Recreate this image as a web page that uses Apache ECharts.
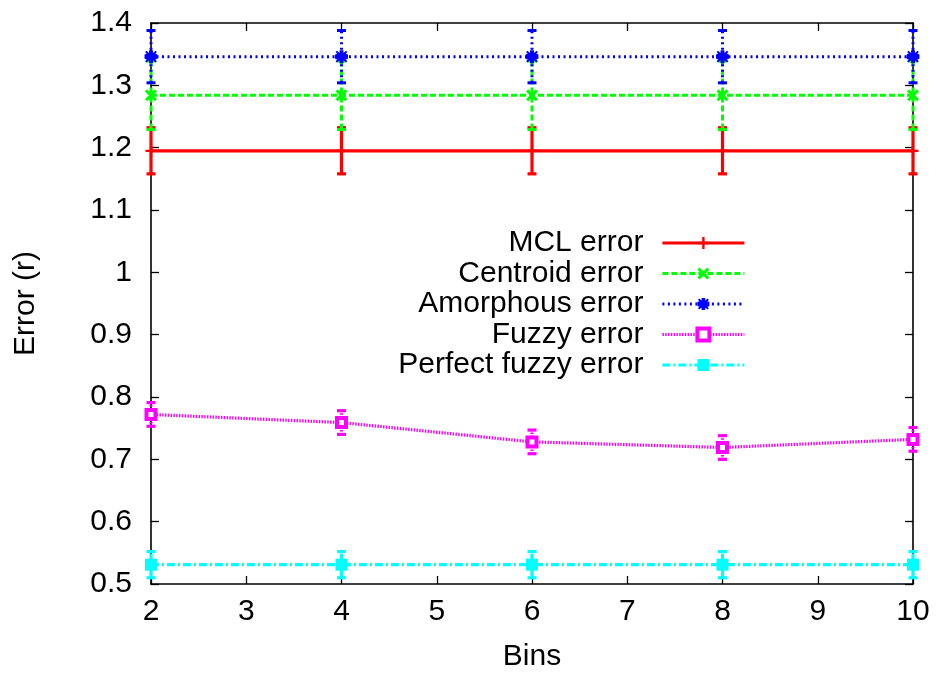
<!DOCTYPE html>
<html>
<head>
<meta charset="utf-8">
<script src="https://cdn.jsdelivr.net/npm/echarts@6/dist/echarts.min.js"></script>
<style>
  html, body { margin: 0; padding: 0; background: #fff; }
  #chart { width: 938px; height: 677px; }
</style>
</head>
<body>
<div id="chart"></div>
<script>
// Number of bins on the x axis
const bins = [2, 4, 6, 8, 10];

// Mean error per method, with the half-height of each error bar
const mclError = [1.195, 1.195, 1.195, 1.195, 1.195];
const mclErrorBar = [0.037, 0.037, 0.037, 0.037, 0.037];

const centroidError = [1.284, 1.284, 1.284, 1.284, 1.284];
const centroidErrorBar = [0.055, 0.055, 0.055, 0.055, 0.055];

const amorphousError = [1.346, 1.346, 1.346, 1.346, 1.346];
const amorphousErrorBar = [0.042, 0.042, 0.042, 0.042, 0.042];

const fuzzyError = [0.772, 0.759, 0.728, 0.719, 0.732];
const fuzzyErrorBar = [0.019, 0.019, 0.019, 0.019, 0.019];

const perfectFuzzyError = [0.531, 0.531, 0.531, 0.531, 0.531];
const perfectFuzzyErrorBar = [0.021, 0.021, 0.021, 0.021, 0.021];

const seriesNames = ['MCL error', 'Centroid error', 'Amorphous error', 'Fuzzy error', 'Perfect fuzzy error'];

// Axis ranges
const xMin = 2, xMax = 10, xStep = 1;
const yMin = 0.5, yMax = 1.4, yStep = 0.1;

const FONT = '"Liberation Sans", Arial, Helvetica, sans-serif';
const FS = 30;

// Point shapes
const plusPath = 'path://M4,0H6V4H10V6H6V10H4V6H0V4H4Z';
const crossPath = 'path://M0,1.8L1.8,0L5,3.2L8.2,0L10,1.8L6.8,5L10,8.2L8.2,10L5,6.8L1.8,10L0,8.2L3.2,5Z';
const starPath = 'path://M3.5,0H6.5V3H9.2L10,3.5V6.5L9.2,7H6.5V10H3.5V7H0.8L0,6.5V3.5L0.8,3H3.5Z M1.5,0.5L5,3.5L8.5,0.5L9.5,1.5L6.5,5L9.5,8.5L8.5,9.5L5,6.5L1.5,9.5L0.5,8.5L3.5,5L0.5,1.5Z';

const styles = [
  { color: '#ff0000', width: 3.2, dash: 'solid',      dashArr: null,         symbol: plusPath,  size: 11, item: { color: '#ff0000' } },
  { color: '#00ff00', width: 3,   dash: [6, 3],       dashArr: [6, 3],       symbol: crossPath, size: 12, item: { color: '#00ff00' } },
  { color: '#0000ff', width: 3,   dash: [2, 3.5],     dashArr: [2, 3.5],     symbol: starPath,  size: 13, item: { color: '#0000ff' } },
  { color: '#ff00ff', width: 3.2, dash: [1.5, 1.3],   dashArr: [1.5, 1.3],   symbol: 'rect',    size: 9,  item: { color: '#ffffff', borderColor: '#ff00ff', borderWidth: 4 } },
  { color: '#00ffff', width: 3.2, dash: [8, 3, 2, 3], dashArr: [8, 3, 2, 3], symbol: 'rect',    size: 12, item: { color: '#00ffff' } }
];

const values = [mclError, centroidError, amorphousError, fuzzyError, perfectFuzzyError];
const errors = [mclErrorBar, centroidErrorBar, amorphousErrorBar, fuzzyErrorBar, perfectFuzzyErrorBar];

function lineSeries(i) {
  const s = styles[i];
  return {
    type: 'line',
    name: seriesNames[i],
    data: bins.map((b, k) => [b, values[i][k]]),
    symbol: s.symbol,
    symbolSize: s.size,
    showAllSymbol: true,
    clip: false,
    lineStyle: { color: s.color, width: s.width, type: s.dash },
    itemStyle: s.item,
    emphasis: { disabled: true },
    animation: false
  };
}

function errorSeries(i) {
  const s = styles[i];
  return {
    type: 'custom',
    name: seriesNames[i],
    data: bins.map((b, k) => [b, values[i][k] - errors[i][k], values[i][k] + errors[i][k]]),
    encode: { x: 0, y: [1, 2] },
    clip: false,
    silent: true,
    animation: false,
    renderItem(params, api) {
      const x = api.value(0);
      const lo = api.coord([x, api.value(1)]);
      const hi = api.coord([x, api.value(2)]);
      const half = 4.5;
      const style = { stroke: s.color, lineWidth: s.width, lineDash: s.dashArr, fill: null };
      const cap = { stroke: s.color, lineWidth: s.width };
      return {
        type: 'group',
        children: [
          { type: 'line', shape: { x1: lo[0], y1: lo[1], x2: hi[0], y2: hi[1] }, style },
          { type: 'line', shape: { x1: lo[0] - half, y1: lo[1], x2: lo[0] + half, y2: lo[1] }, style: cap },
          { type: 'line', shape: { x1: hi[0] - half, y1: hi[1], x2: hi[0] + half, y2: hi[1] }, style: cap }
        ]
      };
    }
  };
}

const series = [];
for (let i = 0; i < seriesNames.length; i++) {
  series.push(lineSeries(i));
  series.push(errorSeries(i));
}

// Legend entries keep each series' own stroke width and point border
const legendData = seriesNames.map((name, i) => {
  const s = styles[i];
  const entry = {
    name,
    lineStyle: { width: s.width, color: s.color, type: s.dash }
  };
  if (s.item.borderWidth) {
    entry.itemStyle = { color: s.item.color, borderColor: s.item.borderColor, borderWidth: s.item.borderWidth };
  }
  return entry;
});

const frameLine = { show: true, onZero: false, lineStyle: { color: '#000', width: 1.6 } };
const innerTick = { show: true, inside: true, length: 8, lineStyle: { color: '#000', width: 1.3 } };

const option = {
  backgroundColor: '#ffffff',
  animation: false,
  textStyle: { fontFamily: FONT },
  grid: { left: 151, right: 25, top: 23, bottom: 93, containLabel: false, outerBoundsMode: 'none' },
  legend: {
    data: legendData,
    orient: 'vertical',
    right: 192,
    top: 228,
    padding: 0,
    itemGap: 0.5,
    itemWidth: 82,
    itemHeight: 15,
    align: 'right',
    selectedMode: false,
    textStyle: {
      fontFamily: FONT, fontSize: FS, color: '#000',
      width: 270, align: 'right', lineHeight: 30, padding: [0, 14, 0, 0]
    }
  },
  xAxis: [
    {
      type: 'value', min: xMin, max: xMax, interval: xStep, position: 'bottom',
      name: 'Bins', nameLocation: 'middle', nameGap: 58,
      nameTextStyle: { fontFamily: FONT, fontSize: FS, color: '#000' },
      axisLine: frameLine, axisTick: innerTick,
      axisLabel: { margin: 13, fontFamily: FONT, fontSize: FS, color: '#000' },
      splitLine: { show: false }
    },
    {
      type: 'value', min: xMin, max: xMax, interval: xStep, position: 'top',
      axisLine: frameLine, axisTick: innerTick,
      axisLabel: { show: false }, splitLine: { show: false }
    }
  ],
  yAxis: [
    {
      type: 'value', min: yMin, max: yMax, interval: yStep, position: 'left',
      name: 'Error (r)', nameLocation: 'middle', nameGap: 110, nameRotate: 90,
      nameTextStyle: { fontFamily: FONT, fontSize: FS, color: '#000' },
      axisLine: frameLine, axisTick: innerTick,
      axisLabel: { margin: 19, fontFamily: FONT, fontSize: FS, color: '#000' },
      splitLine: { show: false }
    },
    {
      type: 'value', min: yMin, max: yMax, interval: yStep, position: 'right',
      axisLine: frameLine, axisTick: innerTick,
      axisLabel: { show: false }, splitLine: { show: false }
    }
  ],
  series: series
};

const chart = echarts.init(document.getElementById('chart'), null, { renderer: 'canvas' });
chart.setOption(option);
</script>
</body>
</html>
